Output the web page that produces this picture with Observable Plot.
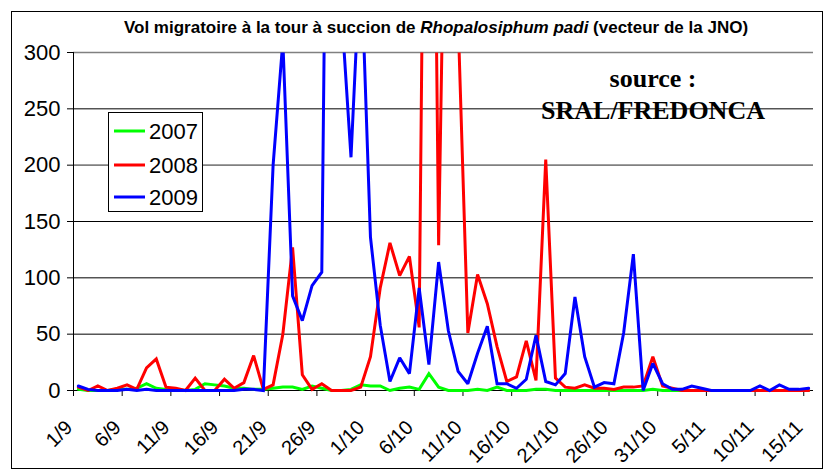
<!DOCTYPE html>
<html>
<head>
<meta charset="utf-8">
<script src="https://cdn.jsdelivr.net/npm/d3@7"></script>
<script src="https://cdn.jsdelivr.net/npm/@observablehq/plot@0.6"></script>
<style>
  body { margin: 0; background: #fff; }
  #chart { width: 828px; height: 473px; }
</style>
</head>
<body>
<div id="chart"></div>
<script>
// Daily captures, 1/9 (index 0) to 15/11 (index 75)
const series = ["2007", "2008", "2009"];
const colors = ["#00ff00", "#ff0000", "#0000ff"];

const v2007 = [1,0,0,0,1,1,2,6,2,1, 1,0,1,6,5,4,2,2,1,1,
               2,3,3,1,4,2,0,0,1,5, 4,4,0,2,3,1,15,3,0,0,
               0,1,0,3,0,0,0,1,1,0, 0,0,0,0,0,0,0,0,0,1,
               0,0,0,0,0,0,0,0,0,0, 0,0,0,0,0,0];
const v2008 = [3,0,4,0,2,5,1,20,28,3, 2,0,11,0,0,10,2,7,31,1,
               5,50,127,14,1,6,0,0,0,3, 30,91,131,102,119,56,950,129,650,330,
               51,103,77,39,8,12,44,9,205,11, 3,2,5,2,2,1,3,3,4,30,
               4,2,0,0,0,0,0,0,0,0, 0,0,0,0,0,0];
const v2009 = [4,1,0,0,0,1,0,1,0,0, 0,0,0,0,0,0,0,1,1,0,
               200,310,84,62,93,105,930,340,207,390, 136,58,8,29,15,91,23,114,53,17,
               6,33,57,6,6,2,10,49,8,5, 15,83,30,3,7,6,51,121,0,24,
               6,1,1,4,2,0,0,0,0,0, 4,0,5,1,1,2];

const tickLabels = ["1/9","6/9","11/9","16/9","21/9","26/9","1/10","6/10",
                    "11/10","16/10","21/10","26/10","31/10","5/11","10/11","15/11"];
const tickStep = 5;
const yTicks = [0, 50, 100, 150, 200, 250, 300];

const titleParts = [
  {t: "Vol migratoire à la tour à succion de ", italic: false},
  {t: "Rhopalosiphum padi", italic: true},
  {t: " (vecteur de la JNO)", italic: false}
];
const sourceLines = ["source :", "SRAL/FREDONCA"];

const tickData = tickLabels.map((label, k) => ({pos: k * tickStep, label}));
const allValues = [v2007, v2008, v2009];

const chart = Plot.plot({
  width: 828,
  height: 473,
  marginLeft: 73,
  marginRight: 15,
  marginTop: 52,
  marginBottom: 83,
  style: {fontFamily: '"Liberation Sans", Arial, sans-serif', background: "#fff", color: "#000"},
  x: {domain: [0, 76], axis: null},
  y: {domain: [0, 300], axis: null},
  marks: [
    Plot.ruleY([50, 100, 150, 250], {stroke: "#000", strokeWidth: 1}),
    Plot.ruleY([200, 300], {stroke: "#808080", strokeWidth: 1.6}),
    Plot.axisY({ticks: yTicks, tickSize: 6, tickPadding: 7, fontSize: 22, label: null, tickFormat: d => String(d)}),
    Plot.axisX({ticks: tickData.map(d => d.pos), tickSize: 6, tickFormat: () => "", label: null}),
    Plot.text(tickData, {x: "pos", text: "label", frameAnchor: "bottom", rotate: -45,
      textAnchor: "end", lineAnchor: "top", dy: 28, dx: -10, fontSize: 20}),
    Plot.ruleX([0], {stroke: "#000", strokeWidth: 1}),
    Plot.ruleY([0], {stroke: "#000", strokeWidth: 1}),
    ...allValues.map((vals, s) =>
      Plot.line(vals, {x: (d, i) => i + 0.5, y: d => d, stroke: colors[s], strokeWidth: 3,
        strokeLinejoin: "miter", strokeMiterlimit: 2}))
  ]
});

document.getElementById("chart").appendChild(chart);

const svg = d3.select(chart);
// clip series at the top of the plot frame (300)
const defs = svg.append("defs");
defs.append("clipPath").attr("id", "topclip")
  .append("rect").attr("x", 60).attr("y", 52).attr("width", 760).attr("height", 360);
svg.selectAll('g[aria-label="line"]').attr("clip-path", "url(#topclip)");

// outer border
svg.append("rect").attr("x", 11.5).attr("y", 11.5).attr("width", 811).attr("height", 457)
  .attr("fill", "none").attr("stroke", "#000").attr("stroke-width", 1);

// title
const title = svg.append("text").attr("x", 436).attr("y", 33).attr("text-anchor", "middle")
  .attr("font-family", '"Liberation Sans", Arial, sans-serif').attr("font-size", 17)
  .attr("font-weight", "bold").attr("fill", "#000");
titleParts.forEach(p => title.append("tspan").attr("font-style", p.italic ? "italic" : "normal").text(p.t));

// legend
const lg = svg.append("g").attr("text-anchor", "start");
lg.append("rect").attr("x", 108.5).attr("y", 112.5).attr("width", 94).attr("height", 99)
  .attr("fill", "#fff").attr("stroke", "#000").attr("stroke-width", 1);
const rowY = [131, 165, 197];
series.forEach((name, s) => {
  lg.append("line").attr("x1", 114).attr("x2", 145).attr("y1", rowY[s]).attr("y2", rowY[s])
    .attr("stroke", colors[s]).attr("stroke-width", 3);
  lg.append("text").attr("x", 149).attr("y", rowY[s] + 8).attr("text-anchor", "start")
    .attr("font-family", '"Liberation Sans", Arial, sans-serif').attr("font-size", 22)
    .attr("fill", "#000").text(name);
});

// source annotation
const srcY = [87, 119];
sourceLines.forEach((t, k) => {
  svg.append("text").attr("x", 653).attr("y", srcY[k]).attr("text-anchor", "middle")
    .attr("font-family", '"Liberation Serif", "Times New Roman", serif').attr("font-size", 26)
    .attr("font-weight", "bold").attr("fill", "#000").text(t);
});
</script>
</body>
</html>
